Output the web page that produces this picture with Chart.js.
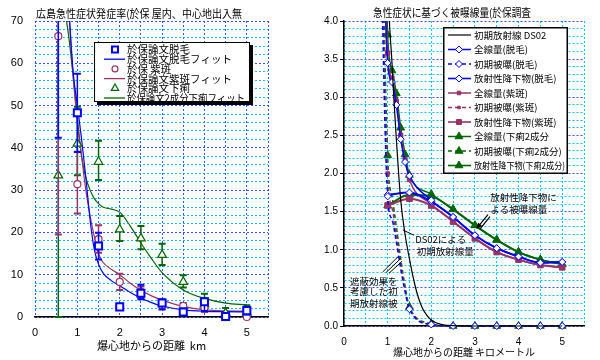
<!DOCTYPE html>
<html><head><meta charset="utf-8">
<script src="https://cdn.jsdelivr.net/npm/chart.js@4.4.1/dist/chart.umd.min.js"></script>
<style>
body{margin:0;background:#fff;width:600px;height:360px;overflow:hidden;position:relative}
canvas{position:absolute;top:0}
</style></head><body>
<canvas id="L" width="300" height="360" style="left:0;width:300px;height:360px"></canvas>
<canvas id="R" width="300" height="360" style="left:300px;width:300px;height:360px"></canvas>
<script>
// ---------- Left chart data (incidence %, vs distance km) ----------
const distL = [0.55, 1, 1.5, 2, 2.5, 3, 3.5, 4, 4.5, 5];
const epilation   = [90, 48.3, 16.8, 2.4, 5.6, 3.3, 1.2, 3.6, 0.1, 1.5];
const epilationHi = [140, 57.5, 19.9, 2.4, 7.6, 4.2, 2.0, 4.4, 0.6, 2.0];
const epilationLo = [42.4, 39, 13.6, 2.4, 4.2, 1.8, 0.6, 1.4, 0, 0.6];
const purpura     = [66.4, 31.4, 18.4, 8.3, 6.0, 2.8, 2.6, 2.2, 0, 0];
const purpuraHi   = [90, 39.1, 21.7, 10.2, 7.2, 3.6, 3.3, 3.0, 0.5, 0.6];
const purpuraLo   = [19.5, 24.5, 15.2, 6.4, 4.5, 2.0, 2.0, 1.2, 0, 0];
const diarrhea    = [33.5, 41.0, 36.7, 20.7, 18.6, 14.7, 8.3, 3.0, 0.9, 1.0];
const diarrheaHi  = [66.4, 49.7, 41.7, 23.9, 21.5, 17.3, 9.9, 5.5, 2.1, 2.8];
const diarrheaLo  = [0, 33.5, 32.4, 18.0, 16.0, 12.3, 7.0, 1.5, 0, 0.2];
const fitX         = [0.7, 0.8, 0.9, 1.0, 1.1, 1.2, 1.3, 1.4, 1.5, 1.6, 1.8, 2.0, 2.25, 2.5, 2.75, 3.0, 3.5, 4.0, 4.5, 5.0];
const epilationFit = [90, 73, 58, 50, 42, 33, 23, 16, 12.5, 10.5, 8.6, 7.4, 5.8, 4.5, 3.4, 2.6, 1.7, 1.35, 1.25, 1.2];
const purpuraFit   = [92, 72, 57, 46, 38, 30, 24, 19, 15, 13, 11.3, 10, 8, 6.3, 5, 4, 2.5, 1.7, 1.45, 1.4];
const diarrheaFit  = [73, 66, 57, 47, 38, 33, 30, 28, 26.8, 26, 25.5, 24.8, 21.5, 17.5, 13.8, 10.5, 6.4, 4.4, 3.3, 2.9];
const xTicksL = ['0','1','2','3','4','5'];
const yTicksL = ['0','10','20','30','40','50','60','70'];

// ---------- Right chart data (dose Gy vs distance km) ----------
const distDS02 = [0.5, 1.0, 1.1, 1.2, 1.3, 1.4, 1.5, 1.6, 1.7, 1.8, 1.9, 2.0, 2.2, 2.5, 3.0, 3.5, 4.0, 4.5, 5.0];
const ds02     = [30, 4.8, 3.45, 2.45, 1.65, 1.2, 0.88, 0.6, 0.38, 0.23, 0.14, 0.08, 0.025, 0.005, 0, 0, 0, 0, 0];
const distR    = [0.5, 1.0, 1.1, 1.2, 1.3, 1.4, 1.5, 2.0, 2.5, 3.0, 3.5, 4.0, 4.5, 5.0];
const totalEpil = [22, 3.45, 3.2, 2.9, 2.45, 2.15, 1.97, 1.65, 1.43, 1.19, 1.02, 0.91, 0.83, 0.84];
const initEpil  = [20, 1.7, 1.4, 1.1, 0.75, 0.45, 0.22, 0.02, 0, 0, 0, 0, 0, 0];
const totalPurp = [22, 3.58, 3.25, 2.95, 2.5, 2.18, 1.92, 1.6, 1.37, 1.15, 0.97, 0.87, 0.80, 0.77];
const initPurp  = [20, 2.0, 1.55, 1.2, 0.8, 0.48, 0.24, 0.02, 0, 0, 0, 0, 0, 0];
const totalDiar = [22, 3.82, 3.35, 3.05, 2.6, 2.25, 1.98, 1.73, 1.53, 1.32, 1.13, 0.97, 0.87, 0.81];
const initDiar  = [20, 2.24, 1.7, 1.3, 0.88, 0.52, 0.25, 0.03, 0, 0, 0, 0, 0, 0];
const distFall  = [1.0, 1.5, 2.0, 2.5, 3.0, 3.5, 4.0, 4.5, 5.0];
const fallEpil  = [1.72, 1.75, 1.63, 1.43, 1.19, 1.02, 0.91, 0.83, 0.84];
const fallPurp  = [1.58, 1.67, 1.58, 1.37, 1.15, 0.97, 0.87, 0.80, 0.77];
const fallDiar  = [1.58, 1.72, 1.70, 1.53, 1.32, 1.13, 0.97, 0.87, 0.81];
const xTicksR = ['0','1','2','3','4','5'];
const yTicksR = ['0.0','0.5','1.0','1.5','2.0','2.5','3.0','3.5','4.0'];

// ---------- styles ----------
const BLUE = '#0000ff', MAG = '#993366', GRN = '#006600';
const GRID_BLUE = '#2a55ff', GRID_CYAN = '#00c8ff';
const JP = '"Noto Sans CJK JP", "Noto Sans CJK SC", sans-serif';
const SANS = '"Liberation Sans", Arial, sans-serif';
const isMult = (v, m) => Math.abs(v / m - Math.round(v / m)) < 1e-6;
const pts = (xs, ys) => xs.map((x, i) => ({x: x, y: ys[i]}));
const CLIP = {left: 0, top: 0, right: 10, bottom: 8};

// ================= LEFT CHART =================
const errorSets = {0: [epilationHi, epilationLo, BLUE], 1: [purpuraHi, purpuraLo, MAG], 2: [diarrheaHi, diarrheaLo, GRN]};
const leftPlugin = {
  id: 'leftExtras',
  beforeDatasetDraw(chart, args) {
    const e = errorSets[args.index];
    if (!e) return;
    const {ctx, chartArea: a, scales: {x, y}} = chart;
    ctx.save();
    ctx.beginPath(); ctx.rect(a.left - 5, a.top, a.right - a.left + 10, a.bottom - a.top + 3); ctx.clip();
    ctx.strokeStyle = e[2];
    distL.forEach((d, i) => {
      const px = x.getPixelForValue(d), yh = y.getPixelForValue(e[0][i]), yl = y.getPixelForValue(e[1][i]);
      ctx.lineWidth = 1.5;
      ctx.beginPath(); ctx.moveTo(px, yh); ctx.lineTo(px, yl); ctx.stroke();
      ctx.lineWidth = 2;
      ctx.beginPath(); ctx.moveTo(px - 3.5, yh); ctx.lineTo(px + 3.5, yh);
      ctx.moveTo(px - 3.5, yl); ctx.lineTo(px + 3.5, yl); ctx.stroke();
    });
    ctx.restore();
  },
  afterDraw(chart) {
    const ctx = chart.ctx;
    ctx.save();
    ctx.fillStyle = '#000';
    ctx.font = '11px ' + JP;
    ctx.textBaseline = 'middle';
    ctx.textAlign = 'left';
    ctx.fillText('広島急性症状発症率(於保 屋内、中心地出入無', 36, 14, 206);
    // legend
    const bx = 94, by = 42, bw = 156, bh = 60;
    ctx.fillStyle = '#000'; ctx.fillRect(bx + 3, by + 3, bw, bh);
    ctx.fillStyle = '#fff'; ctx.fillRect(bx, by, bw, bh);
    ctx.strokeStyle = '#000'; ctx.lineWidth = 1; ctx.strokeRect(bx + 0.5, by + 0.5, bw - 1, bh - 1);
    const items = [
      {t: '於保論文脱毛', ds: 0, marker: true},
      {t: '於保論文脱毛フィット', ds: 3},
      {t: '於保 紫斑', ds: 1, marker: true},
      {t: '於保論文紫斑フィット', ds: 4},
      {t: '於保論文下痢', ds: 2, marker: true},
      {t: '於保論文2成分下痢フィット', ds: 5}
    ];
    ctx.font = '10.5px ' + JP;
    items.forEach((it, i) => {
      const yy = by + 7.5 + i * 9.7;
      const d = chart.data.datasets[it.ds];
      if (it.marker) {
        ctx.strokeStyle = d.pointBorderColor; ctx.fillStyle = '#fff'; ctx.lineWidth = d.pointBorderWidth;
        Chart.helpers.drawPoint(ctx, {pointStyle: d.pointStyle, radius: d.pointRadius * 0.85, rotation: 0, borderWidth: d.pointBorderWidth}, 115, yy);
      } else {
        ctx.strokeStyle = d.borderColor; ctx.lineWidth = 1.3;
        ctx.beginPath(); ctx.moveTo(104, yy); ctx.lineTo(125, yy); ctx.stroke();
      }
      ctx.fillStyle = '#000';
      ctx.fillText(it.t, 127, yy, 118);
    });
    ctx.restore();
  }
};

new Chart(document.getElementById('L'), {
  type: 'scatter',
  data: {datasets: [
    {label: '於保論文脱毛', data: pts(distL, epilation), showLine: false, pointStyle: 'rect', pointRadius: 5,
     pointBorderColor: BLUE, pointBackgroundColor: '#fff', pointBorderWidth: 2, clip: CLIP},
    {label: '於保 紫斑', data: pts(distL, purpura), showLine: false, pointStyle: 'circle', pointRadius: 3.5,
     pointBorderColor: MAG, pointBackgroundColor: '#fff', pointBorderWidth: 1.2, clip: CLIP},
    {label: '於保論文下痢', data: pts(distL, diarrhea), showLine: false, pointStyle: 'triangle', pointRadius: 5,
     pointBorderColor: GRN, pointBackgroundColor: '#fff', pointBorderWidth: 1.2, clip: CLIP},
    {label: '於保論文脱毛フィット', data: pts(fitX, epilationFit), showLine: true, pointRadius: 0, borderColor: BLUE,
     borderWidth: 1.2, cubicInterpolationMode: 'monotone', clip: CLIP},
    {label: '於保論文紫斑フィット', data: pts(fitX, purpuraFit), showLine: true, pointRadius: 0, borderColor: MAG,
     borderWidth: 1.2, cubicInterpolationMode: 'monotone', clip: CLIP},
    {label: '於保論文2成分下痢フィット', data: pts(fitX, diarrheaFit), showLine: true, pointRadius: 0, borderColor: GRN,
     borderWidth: 1.2, cubicInterpolationMode: 'monotone', clip: CLIP}
  ]},
  options: {
    responsive: false, animation: false, devicePixelRatio: 1,
    layout: {padding: {left: 0, right: 32, top: 21, bottom: 0}},
    plugins: {legend: {display: false}, tooltip: {enabled: false}},
    scales: {
      x: {type: 'linear', min: 0, max: 5.5,
        afterFit: s => { s.height = 43; },
        ticks: {stepSize: 0.5, autoSkip: false, maxRotation: 0, color: '#000', padding: 9,
          font: {family: SANS, size: 11},
          callback: v => isMult(v, 1) ? xTicksL[Math.round(v)] : ''},
        grid: {color: GRID_BLUE, drawTicks: false, lineWidth: 1},
        border: {display: true, color: '#000', width: 1.5, dash: [2, 2]},
        title: {display: true, text: '爆心地からの距離  km', color: '#000', font: {family: JP, size: 11}, padding: {top: 0, bottom: 8}}
      },
      y: {type: 'linear', min: 0, max: 70,
        afterFit: s => { s.width = 35; },
        ticks: {stepSize: 2, autoSkip: false, color: '#000', padding: 12, font: {family: SANS, size: 11},
          callback: v => isMult(v, 10) ? yTicksL[Math.round(v / 10)] : ''},
        grid: {color: c => isMult(c.tick.value, 10) ? GRID_BLUE : GRID_CYAN, drawTicks: false, lineWidth: 1},
        border: {display: false, dash: [2, 2]}
      }
    }
  },
  plugins: [leftPlugin]
});

// ================= RIGHT CHART =================
const rightPlugin = {
  id: 'rightExtras',
  afterDatasetsDraw(chart) {
    const {ctx, scales: {x, y}} = chart;
    const X = v => x.getPixelForValue(v), Y = v => y.getPixelForValue(v);
    ctx.save();
    ctx.fillStyle = '#000'; ctx.strokeStyle = '#000'; ctx.lineWidth = 1;
    ctx.font = '9.5px ' + JP; ctx.textBaseline = 'middle'; ctx.textAlign = 'left';
    ctx.fillText('放射性降下物に', X(3.35), Y(1.69));
    ctx.fillText('よる被曝線量', X(3.35), Y(1.53));
    ctx.fillText('DS02による', X(1.63), Y(1.14));
    ctx.fillText('初期放射線量', X(1.67), Y(0.98));
    ctx.fillText('遮蔽効果を', X(0.14), Y(0.59));
    ctx.fillText('考慮した初', X(0.14), Y(0.45));
    ctx.fillText('期放射線被', X(0.14), Y(0.30));
    // leader lines
    ctx.beginPath();
    ctx.moveTo(X(1.35), Y(1.26)); ctx.lineTo(X(1.6), Y(1.19));
    [[0.89, 0.71, 1.24, 0.91], [0.96, 0.70, 1.29, 0.88], [1.03, 0.69, 1.33, 0.85]].forEach(l => {
      ctx.moveTo(X(l[0]), Y(l[1])); ctx.lineTo(X(l[2]), Y(l[3]));
    });
    ctx.stroke();
    // arrow
    const ax1 = X(3.3), ay1 = Y(1.46), ax2 = X(3.04), ay2 = Y(1.28);
    ctx.lineWidth = 1.2;
    ctx.beginPath(); ctx.moveTo(ax1, ay1); ctx.lineTo(ax2, ay2);
    ctx.moveTo(ax1 + 2, ay1 + 2); ctx.lineTo(ax2 + 3, ay2 + 1); ctx.stroke();
    const ang = Math.atan2(ay2 - ay1, ax2 - ax1);
    ctx.beginPath(); ctx.moveTo(ax2, ay2);
    ctx.lineTo(ax2 - 6 * Math.cos(ang - 0.45), ay2 - 6 * Math.sin(ang - 0.45));
    ctx.lineTo(ax2 - 6 * Math.cos(ang + 0.45), ay2 - 6 * Math.sin(ang + 0.45));
    ctx.closePath(); ctx.fill();
    ctx.restore();
  },
  afterDraw(chart) {
    const ctx = chart.ctx;
    ctx.save();
    ctx.fillStyle = '#000'; ctx.textBaseline = 'middle'; ctx.textAlign = 'center';
    ctx.font = '11px ' + JP;
    ctx.fillText('急性症状に基づく被曝線量(於保調査', 152, 13, 158);
    // legend
    const bx = 143, by = 27, bw = 125, bh = 147;
    ctx.fillStyle = '#fff'; ctx.fillRect(bx, by, bw, bh);
    ctx.strokeStyle = '#000'; ctx.lineWidth = 1.5; ctx.strokeRect(bx + 0.75, by + 0.75, bw - 1.5, bh - 1.5);
    ctx.textAlign = 'left'; ctx.font = '9.5px ' + JP;
    chart.data.datasets.forEach((d, i) => {
      const yy = by + 8 + i * 14.5;
      ctx.strokeStyle = d.borderColor; ctx.lineWidth = Math.min(d.borderWidth, 1.6);
      ctx.setLineDash(d.borderDash || []);
      ctx.beginPath(); ctx.moveTo(148, yy); ctx.lineTo(171, yy); ctx.stroke();
      ctx.setLineDash([]);
      if (d.legendRadius) {
        ctx.fillStyle = d.pointBackgroundColor; ctx.strokeStyle = d.pointBorderColor; ctx.lineWidth = 1;
        Chart.helpers.drawPoint(ctx, {pointStyle: d.pointStyle, radius: d.legendRadius, rotation: 0, borderWidth: 1}, 159, yy);
      }
      ctx.fillStyle = '#000';
      ctx.fillText(d.label, 174, yy, 91);
    });
    ctx.restore();
  }
};

const markerR = r => (c => (c.raw && isMult(c.raw.x, 0.5) && c.raw.x >= 1) ? r : 0);
function series(label, xs, ys, color, dash, width, style, r, fill, legendR) {
  return {label: label, data: pts(xs, ys), showLine: true, borderColor: color, borderWidth: width, borderDash: dash,
    pointStyle: style, pointRadius: r, pointBorderColor: color, pointBackgroundColor: fill, pointBorderWidth: 1,
    legendRadius: legendR, cubicInterpolationMode: 'monotone', clip: CLIP};
}
new Chart(document.getElementById('R'), {
  type: 'scatter',
  data: {datasets: [
    series('初期放射線 DS02', distDS02, ds02, '#000', [], 1.2, 'circle', 0, '#000', 0),
    series('全線量(脱毛)', distR, totalEpil, BLUE, [], 1.5, 'rectRot', 3.5, '#fff', 3.5),
    series('初期被曝(脱毛)', distR, initEpil, BLUE, [4, 3], 1.5, 'rectRot', markerR(3.5), '#fff', 3.5),
    series('放射性降下物(脱毛)', distFall, fallEpil, BLUE, [], 2, 'rectRot', 3.5, '#fff', 3.5),
    series('全線量(紫斑)', distR, totalPurp, MAG, [], 1.5, 'rect', 3, MAG, 2.5),
    series('初期被曝(紫斑)', distR, initPurp, MAG, [4, 3], 1.5, 'rect', markerR(2.5), MAG, 1.8),
    series('放射性降下物(紫斑)', distFall, fallPurp, MAG, [], 2, 'rect', 4, MAG, 3.5),
    series('全線量(下痢2成分', distR, totalDiar, GRN, [], 1.5, 'triangle', 4.5, GRN, 4.5),
    series('初期被曝(下痢2成分)', distR, initDiar, GRN, [4, 3], 1.5, 'triangle', markerR(4.5), GRN, 4.5),
    series('放射性降下物(下痢2成分)', distFall, fallDiar, GRN, [], 2, 'triangle', 4.5, GRN, 4.5)
  ]},
  options: {
    responsive: false, animation: false, devicePixelRatio: 1,
    layout: {padding: {left: 0, right: 16, top: 21, bottom: 0}},
    plugins: {legend: {display: false}, tooltip: {enabled: false}},
    scales: {
      x: {type: 'linear', min: 0, max: 5.5,
        afterFit: s => { s.height = 34; },
        ticks: {stepSize: 0.5, autoSkip: false, maxRotation: 0, color: '#000', padding: 10,
          font: {family: SANS, size: 10},
          callback: v => isMult(v, 1) ? xTicksR[Math.round(v)] : ''},
        grid: {color: GRID_CYAN, drawTicks: false, lineWidth: 1},
        border: {display: true, color: '#000', width: 1.5, dash: [2, 2]},
        title: {display: true, text: '爆心地からの距離 キロメートル', color: '#000', font: {family: JP, size: 10}, padding: {top: 0, bottom: 2}}
      },
      y: {type: 'linear', min: 0, max: 4,
        afterFit: s => { s.width = 44; },
        ticks: {stepSize: 0.1, autoSkip: false, color: '#000', padding: 2, font: {family: SANS, size: 10},
          callback: v => isMult(v, 0.5) ? yTicksR[Math.round(v * 2)] : ''},
        grid: {color: c => isMult(c.tick.value, 0.5) ? GRID_BLUE : GRID_CYAN, drawTicks: true, tickLength: 4,
          tickColor: c => isMult(c.tick.value, 0.5) ? '#000' : 'rgba(0,0,0,0)', lineWidth: 1},
        border: {display: true, color: '#000', width: 1.5, dash: [2, 2]}
      }
    }
  },
  plugins: [rightPlugin]
});
</script>
</body></html>
